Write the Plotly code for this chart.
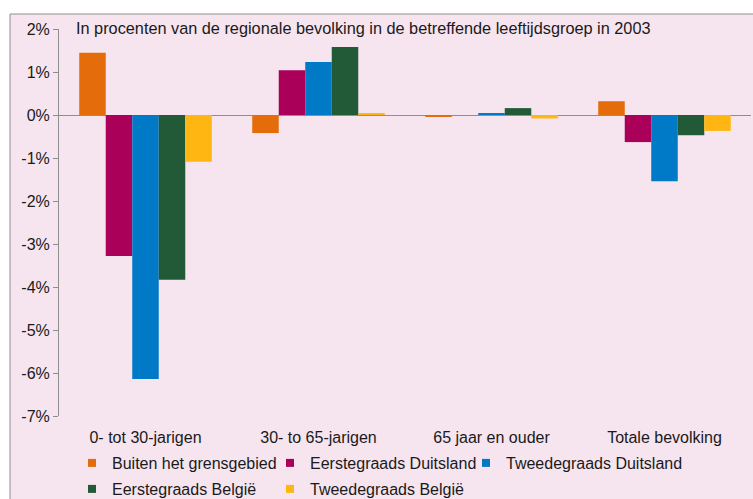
import plotly.graph_objects as go

categories = ["0- tot 30-jarigen", "30- to 65-jarigen", "65 jaar en ouder", "Totale bevolking"]
buiten = [1.45, -0.42, -0.04, 0.32]
eerste_de = [-3.28, 1.04, 0.0, -0.63]
tweede_de = [-6.14, 1.23, 0.04, -1.54]
eerste_be = [-3.83, 1.58, 0.16, -0.47]
tweede_be = [-1.09, 0.03, -0.08, -0.37]

y_ticks = [2, 1, 0, -1, -2, -3, -4, -5, -6, -7]
y_labels = ["2%", "1%", "0%", "-1%", "-2%", "-3%", "-4%", "-5%", "-6%", "-7%"]

series = [
    ("Buiten het grensgebied", buiten, "#E46C0A"),
    ("Eerstegraads Duitsland", eerste_de, "#AA005A"),
    ("Tweedegraads Duitsland", tweede_de, "#0079C6"),
    ("Eerstegraads België", eerste_be, "#225A38"),
    ("Tweedegraads België", tweede_be, "#FFB612"),
]

W, H = 753, 499

# one legend box per entry so the two rows line up like the original
leg_names = ["legend", "legend2", "legend3", "legend4", "legend5"]
leg_x = [72, 270, 466, 72, 270]      # px from left
leg_y = [463, 463, 463, 489, 489]    # px from top

font = "Liberation Sans, Arial, sans-serif"
pink = "#F6E4EF"
grey = "#8E8E8E"

fig = go.Figure()
for (name, vals, col), leg in zip(series, leg_names):
    fig.add_trace(go.Bar(x=categories, y=vals, name=name, marker_color=col,
                         marker_line_width=0, showlegend=False, legendgroup=name))
    fig.add_trace(go.Scatter(x=[None], y=[None], mode="markers", name=name, legend=leg,
                             legendgroup=name,
                             marker=dict(symbol="square", size=8, color=col)))

legends = {}
for leg, lx, ly in zip(leg_names, leg_x, leg_y):
    legends[leg] = dict(orientation="h", xref="container", yref="container",
                        x=lx / W, xanchor="left", y=1 - ly / H,
                        yanchor="middle", bgcolor="rgba(0,0,0,0)",
                        font=dict(size=16), itemwidth=30)

fig.update_layout(
    width=W, height=H,
    margin=dict(l=59, r=2, t=29, b=83, autoexpand=False),
    paper_bgcolor="white", plot_bgcolor="rgba(0,0,0,0)",
    font=dict(family=font, size=16, color="#1a1a1a"),
    barmode="group", bargap=0.234, bargroupgap=0,
    xaxis=dict(showline=False, ticks="", showgrid=False, zeroline=False,
               tickfont=dict(size=16), ticklabelstandoff=10),
    xaxis2=dict(overlaying="x", anchor="free", position=7 / 9, range=[-0.5, 3.5],
                tickvals=[0.5, 1.5, 2.5, 3.5], ticks="outside", ticklen=5,
                tickcolor=grey, showticklabels=False, showgrid=False, zeroline=False),
    xaxis3=dict(overlaying="x", anchor="free", position=7 / 9, side="top",
                range=[-0.5, 3.5], tickvals=[0.5, 1.5, 2.5, 3.5], ticks="outside",
                ticklen=5, tickcolor=grey, showticklabels=False, showgrid=False,
                zeroline=False),
    yaxis=dict(range=[-7, 2], tickvals=y_ticks, ticktext=y_labels, showgrid=False,
               showline=True, linecolor=grey, ticks="outside", ticklen=5,
               tickcolor=grey, zeroline=True, zerolinecolor=grey, zerolinewidth=1,
               tickfont=dict(size=16)),
    shapes=[dict(type="rect", xref="paper", yref="paper", x0=-49 / 692, x1=1.1,
                 y0=-0.4, y1=402 / 387, fillcolor=pink, line=dict(color=grey, width=1),
                 layer="below")],
    annotations=[dict(text="In procenten van de regionale bevolking in de betreffende leeftijdsgroep in 2003",
                      xref="paper", yref="paper", x=15 / 692, y=388 / 387, xanchor="left",
                      yanchor="middle", showarrow=False, font=dict(size=16.3))],
    **legends,
)

# drop the browser's default 8px body margin so the figure sits at 0,0
fig.write_html("out.html", config={"displayModeBar": False},
               post_script="document.body.style.margin='0';")
